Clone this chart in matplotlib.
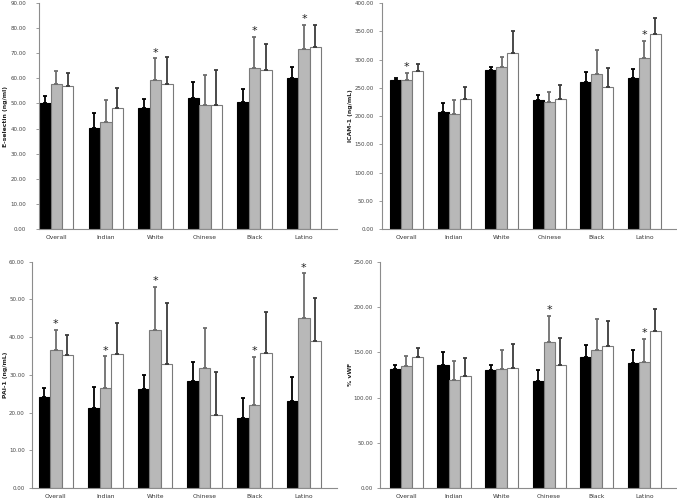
import numpy as np
import matplotlib
matplotlib.use("Agg")
import matplotlib.pyplot as plt

groups = ['Overall', 'Indian', 'White', 'Chinese', 'Black', 'Latino']

# E-selectin
esel_black = [50.0, 40.4, 48.2, 52.3, 50.7, 60.0]
esel_black_err = [3.0, 5.8, 3.6, 6.1, 5.1, 4.5]
esel_gray = [57.7, 42.5, 59.3, 49.4, 64.0, 71.6]
esel_gray_err = [5.2, 9.0, 8.7, 12.1, 12.5, 9.6]
esel_white = [57.1, 48.3, 57.6, 49.4, 63.5, 72.5]
esel_white_err = [4.9, 7.7, 11.0, 14.1, 10.0, 8.7]
esel_star = [2, 4, 5]

# ICAM-1
icam_black = [263.0, 207.0, 280.6, 228.0, 260.6, 268.0]
icam_black_err = [4.6, 16.5, 7.0, 9.0, 17.4, 15.5]
icam_gray = [264.0, 204.0, 286.0, 224.0, 275.0, 301.8]
icam_gray_err = [12.0, 23.6, 19.0, 19.0, 41.0, 31.7]
icam_white = [279.4, 230.6, 312.4, 231.0, 250.6, 346.0]
icam_white_err = [12.4, 21.2, 37.6, 24.0, 34.4, 28.0]
icam_star = [0, 5]

# PAI-1
pai_black = [24.1, 21.1, 26.2, 28.5, 18.5, 23.0]
pai_black_err = [2.3, 5.7, 3.7, 4.8, 5.4, 6.5]
pai_gray = [36.7, 26.5, 41.9, 31.8, 22.0, 45.2]
pai_gray_err = [5.2, 8.4, 11.4, 10.6, 12.8, 11.7]
pai_white = [35.3, 35.4, 33.0, 19.4, 35.8, 39.1]
pai_white_err = [5.4, 8.3, 16.0, 11.4, 10.9, 11.2]
pai_star = [0, 1, 2, 4, 5]

# vWF
vwf_black = [131.1, 136.2, 130.0, 117.8, 144.7, 138.0]
vwf_black_err = [4.4, 13.7, 6.2, 12.2, 12.9, 14.0]
vwf_gray = [134.4, 119.3, 131.0, 161.6, 152.8, 139.2]
vwf_gray_err = [11.1, 20.6, 21.0, 28.4, 33.9, 25.4]
vwf_white = [144.3, 124.1, 132.2, 135.5, 156.5, 173.4]
vwf_white_err = [10.3, 19.5, 27.2, 29.8, 28.0, 24.0]
vwf_star = [3, 5]

panels = [
    dict(rect=[0.058, 0.540, 0.440, 0.454], ylabel='E-selectin (ng/ml)', ymax=90, step=10,
         xlim=(-0.343, 5.67), pad=7.5, labx=-0.106,
         data=(esel_black, esel_black_err, esel_gray, esel_gray_err,
               esel_white, esel_white_err), star=esel_star),
    dict(rect=[0.564, 0.540, 0.436, 0.454], ylabel='ICAM-1 (ng/mL)', ymax=400, step=50,
         xlim=(-0.52, 5.69), pad=4, labx=-0.096,
         data=(icam_black, icam_black_err, icam_gray, icam_gray_err,
               icam_white, icam_white_err), star=icam_star),
    dict(rect=[0.047, 0.020, 0.451, 0.4545], ylabel='PAI-1 (ng/mL)', ymax=60, step=10,
         xlim=(-0.484, 5.67), pad=3, labx=-0.078,
         data=(pai_black, pai_black_err, pai_gray, pai_gray_err,
               pai_white, pai_white_err), star=pai_star),
    dict(rect=[0.562, 0.020, 0.438, 0.4545], ylabel='% vWF', ymax=250, step=50,
         xlim=(-0.547, 5.69), pad=3.5, labx=-0.092,
         data=(vwf_black, vwf_black_err, vwf_gray, vwf_gray_err,
               vwf_white, vwf_white_err), star=vwf_star),
]

fig = plt.figure(figsize=(6.77, 4.98), dpi=100)

x = np.arange(len(groups))
w = 0.232
fills = ['#000000', '#b8b8b8', '#ffffff']
edges = ['#000000', '#7a7a7a', '#7a7a7a']
errc = ['#000000', '#6e6e6e', '#3c3c3c']
axis_gray = '#8c8c8c'

for p in panels:
    ax = fig.add_axes(p['rect'])
    d = p['data']
    for k in range(3):
        vals = np.array(d[2 * k])
        errs = np.array(d[2 * k + 1])
        ax.bar(x + (k - 1) * w, vals, w, color=fills[k], edgecolor=edges[k],
               linewidth=0.8, zorder=2)
        ax.errorbar(x + (k - 1) * w, vals, yerr=[np.zeros_like(errs), errs], fmt='none',
                    ecolor=errc[k], elinewidth=1.3, capsize=1.2, capthick=1.3, zorder=3)
    gv = np.array(d[2])
    ge = np.array(d[3])
    for i in p['star']:
        ax.annotate('*', (x[i], gv[i] + ge[i]), xytext=(0, 0.5), textcoords='offset points',
                    ha='center', va='bottom', fontsize=8, color='#222222')
    ticks = np.arange(0, p['ymax'] + 1, p['step'])
    ax.set_ylim(0, p['ymax'])
    ax.set_xlim(*p['xlim'])
    ax.set_yticks(ticks)
    ax.set_yticklabels(['%.2f' % v for v in ticks])
    ax.set_xticks(x)
    ax.set_xticklabels(groups)
    ax.tick_params(axis='x', length=0, labelsize=4.3, colors='#333333', pad=4)
    ax.tick_params(axis='y', length=2, width=0.6, color=axis_gray, labelsize=4.0,
                   labelcolor='#444444', pad=p['pad'])
    ax.set_ylabel(p['ylabel'], fontsize=4.4, fontweight='bold', color='#222222')
    ax.yaxis.set_label_coords(p['labx'], 0.5)
    for s in ['top', 'right']:
        ax.spines[s].set_visible(False)
    for s in ['left', 'bottom']:
        ax.spines[s].set_color(axis_gray)
        ax.spines[s].set_linewidth(0.8)

fig.savefig('out.png', dpi=100)
